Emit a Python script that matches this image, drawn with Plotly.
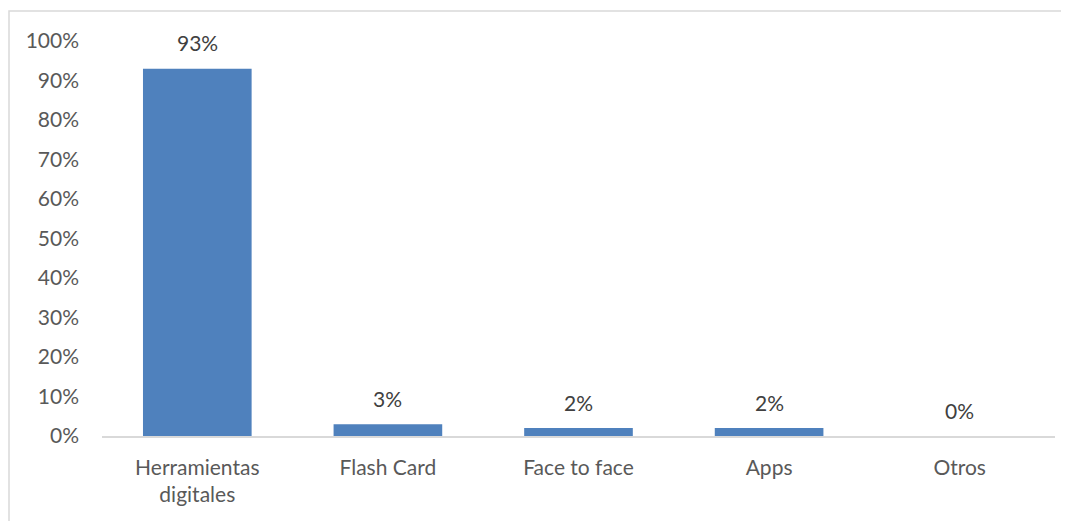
import plotly.graph_objects as go

categorias = ["Herramientas<br>digitales", "Flash Card", "Face to face", "Apps", "Otros"]
valores = [0.93, 0.03, 0.02, 0.02, 0.0]
etiquetas = ["93%", "3%", "2%", "2%", "0%"]

# la página tiene 8 px de margen en el body
OFF = 8
W, H = 1069 - OFF, 521 - OFF
ML, MR, MT, MB = 102 - OFF, W - (1055 - OFF), 41 - OFF, H - (436 - OFF)
pw = W - ML - MR
ph = H - MT - MB

fuente = dict(family="Lato, 'Open Sans', sans-serif", size=21, color="#595959")

fig = go.Figure()
fig.add_trace(go.Bar(
    x=categorias,
    y=valores,
    marker=dict(color="#4F81BD", line=dict(width=0)),
    hoverinfo="skip",
))

# etiquetas de datos sobre cada barra
for c, v, t in zip(categorias, valores, etiquetas):
    fig.add_annotation(
        x=c, y=v, text=t, showarrow=False,
        yshift=26, font=dict(fuente, color="#404040"),
    )

# borde del gráfico (sale por la derecha y por abajo)
fig.add_shape(
    type="rect", xref="paper", yref="paper",
    x0=(9 - 102) / pw, x1=1.2, y0=-0.5, y1=1 + (41 - 11) / ph,
    line=dict(color="#D9D9D9", width=1.5), layer="below",
)

fig.update_layout(
    width=W, height=H,
    margin=dict(l=ML, r=MR, t=MT, b=MB),
    paper_bgcolor="white", plot_bgcolor="white",
    bargap=0.43,
    showlegend=False,
    font=fuente,
)
fig.update_yaxes(
    range=[0, 1], dtick=0.1, tickformat=".0%",
    showgrid=False, zeroline=False, showline=False,
    ticks="", ticklabelstandoff=22, tickfont=fuente,
)
fig.update_xaxes(
    showline=True, linecolor="#D9D9D9", linewidth=1.5,
    ticks="", ticklabelstandoff=12, tickfont=fuente,
)

fig.write_html("out.html")
